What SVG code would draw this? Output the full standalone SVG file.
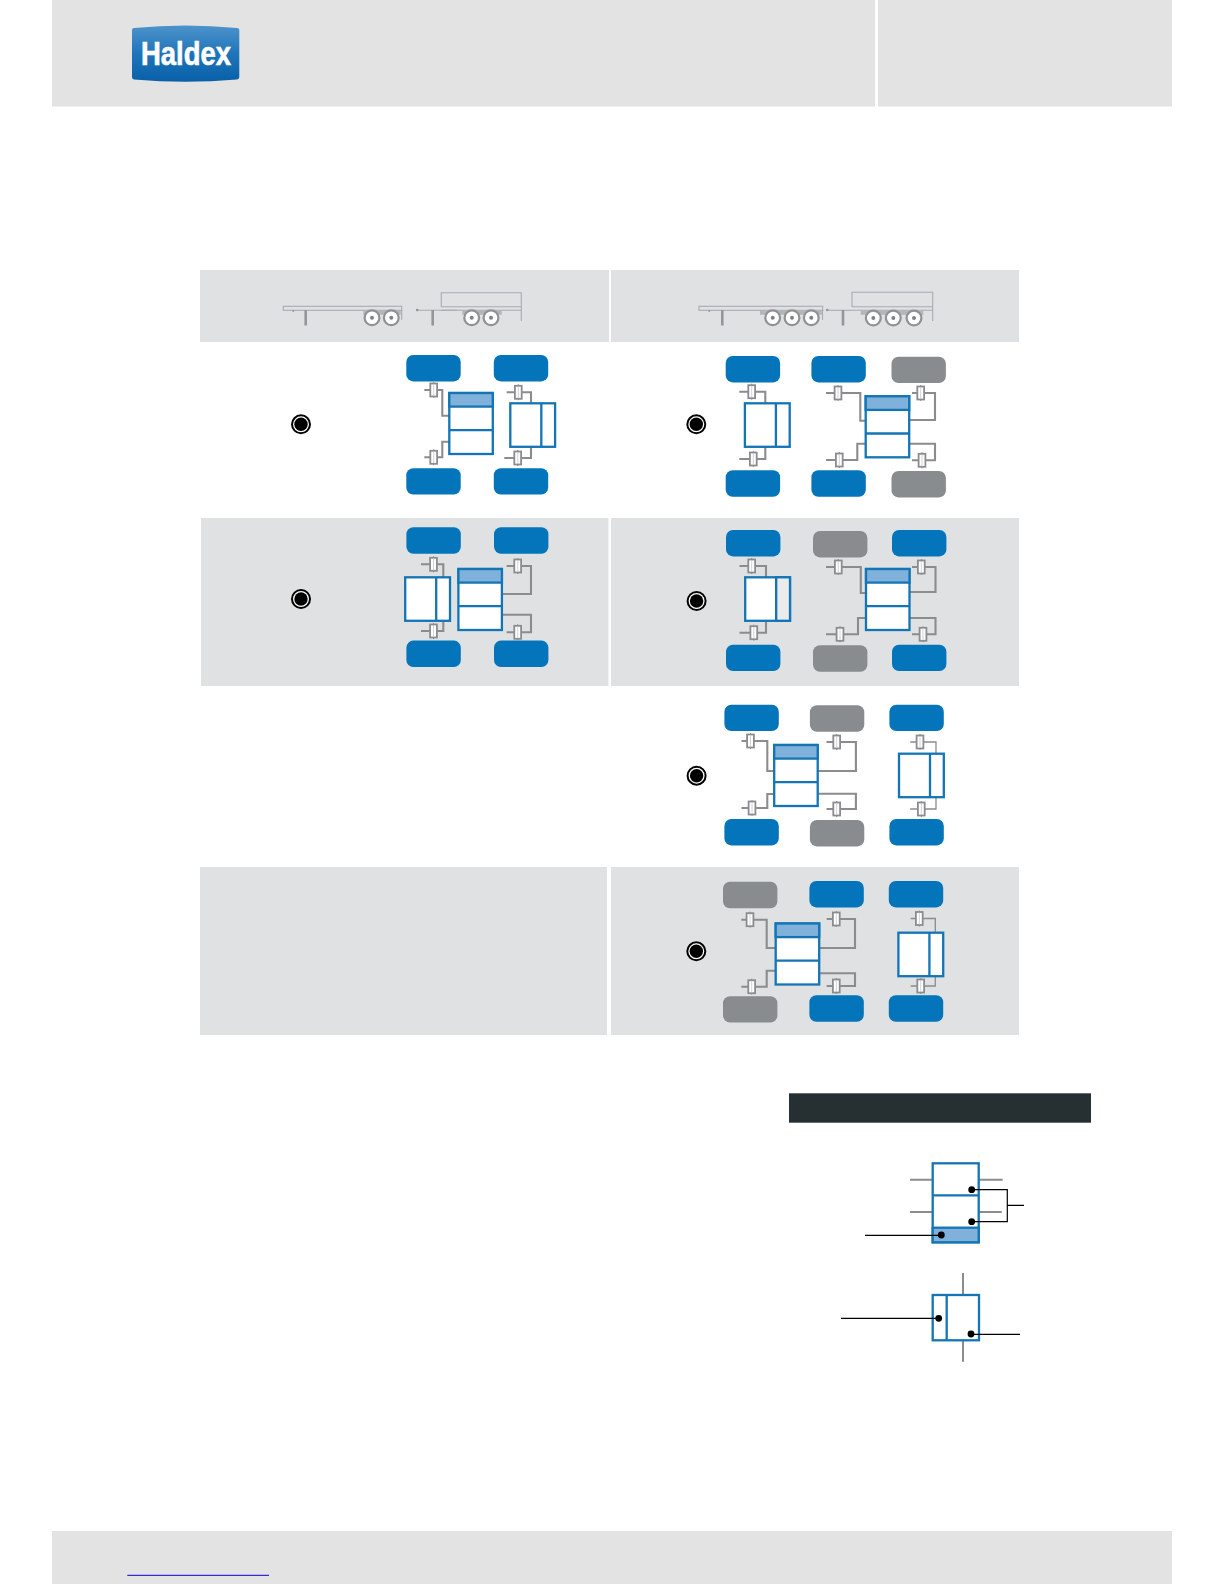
<svg xmlns="http://www.w3.org/2000/svg" width="1224" height="1584" viewBox="0 0 1224 1584">
<style>
.hd{fill:#e3e3e3}.cell{fill:#dfe1e3}
.t{rx:7px;ry:7px;width:54.4px;height:26.4px}.b{fill:#0474bb}.g{fill:#898c8e}
.bk{fill:#fff;stroke:#1375b5;stroke-width:2.3}
.fl{fill:#7fb1da;stroke:#1375b5;stroke-width:2.3}
.sep{stroke:#1375b5;stroke-width:2.3;fill:none}
.p{fill:none;stroke:#8a8c8e;stroke-width:2.1}
.tr{fill:none;stroke:#a9acae;stroke-width:1.1}
.leg{fill:none;stroke:#94979a;stroke-width:2.6}
.ax{fill:#b4b7b9}
.wh{fill:#fff;stroke:#8f9294;stroke-width:2.2}
.hub{fill:#7f8284}
.k{fill:none;stroke:#000;stroke-width:1.2}
.kg{fill:none;stroke:#8a8c8e;stroke-width:2}
</style>
<defs>
<linearGradient id="lg" x1="0" y1="0" x2="0" y2="1"><stop offset="0" stop-color="#4d93cb"/><stop offset="0.5" stop-color="#1f75ba"/><stop offset="1" stop-color="#0a60a8"/></linearGradient>
<g id="v"><line x1="0" y1="-8" x2="0" y2="8" stroke="#8a8c8e" stroke-width="1"/><rect x="-3.400" y="-6.500" width="6.800" height="13" fill="#fff" stroke="#8a8c8e" stroke-width="1.800"/><line x1="0" y1="-6" x2="0" y2="6" stroke="#c4c6c8" stroke-width="0.800"/></g>
<g id="b3"><rect class="bk" width="43.500" height="61"/><rect class="fl" width="43.500" height="13.600"/><line class="sep" x1="0" y1="37.200" x2="43.500" y2="37.200"/></g>
<g id="b2"><rect class="bk" width="44.800" height="43.500"/><line class="sep" x1="31" y1="0" x2="31" y2="43.500"/></g>
<g id="r"><circle r="9" fill="#fff" stroke="#000" stroke-width="2"/><circle r="6.700" fill="#000"/></g>
<g id="w"><circle class="wh" r="7.400"/><circle class="hub" r="2"/></g>
</defs>

<g id="header"><rect class="hd" x="52" width="823" height="106.500"/><rect class="hd" x="878" width="294" height="106.500"/></g>
<g id="logo"><path d="M132 30Q132 28 134 28Q185 23 237 28Q239.300 28 239.300 30V77Q239.300 79 237 79.500Q185 84 134 79.500Q132 79 132 77Z" fill="url(#lg)"/><text x="141" y="65" font-family="Liberation Sans, Arial, sans-serif" font-weight="700" font-size="32.500" fill="#fff" stroke="#fff" stroke-width="0.600" textLength="90" lengthAdjust="spacingAndGlyphs">Haldex</text></g>
<g id="footer"><rect class="hd" x="52" y="1531" width="1120" height="53"/><line x1="127.300" y1="1575.300" x2="269" y2="1575.300" stroke="#0000cc" stroke-width="1"/></g>

<g id="table">
<rect class="cell" x="200" y="270" width="409" height="72"/>
<rect class="cell" x="611" y="270" width="408" height="72"/>
<rect class="cell" x="201" y="518" width="407.500" height="168"/>
<rect class="cell" x="611" y="518" width="408" height="168"/>
<rect class="cell" x="200" y="867" width="407" height="168"/>
<rect class="cell" x="611" y="867" width="408" height="168"/>
</g>

<g id="vehicle-2axle">
<rect class="tr" x="283.300" y="306.300" width="118.400" height="4"/>
<circle cx="293.300" cy="311" r="1" fill="#999"/>
<line class="leg" x1="305.700" y1="310" x2="305.700" y2="325.500"/>
<rect class="ax" x="363.300" y="310.300" width="37.400" height="4.500"/>
<line class="tr" x1="401.700" y1="310" x2="401.700" y2="320"/>
<use href="#w" x="372" y="317.700"/><use href="#w" x="391.300" y="317.700"/>
<circle cx="417.300" cy="310" r="1.300" fill="#8a8c8e"/>
<line class="tr" x1="417.300" y1="310.300" x2="456.700" y2="310.300"/>
<line class="leg" x1="432.700" y1="310" x2="432.700" y2="325.500"/>
<path class="tr" d="M441.300 306.700V292.700H521.300V321M441.300 306.700H521.300M441.300 310.300H521.300"/>
<rect class="ax" x="462.300" y="310.300" width="39.400" height="4.500"/>
<use href="#w" x="471.700" y="317.700"/><use href="#w" x="491" y="317.700"/>
</g>
<g id="vehicle-3axle">
<rect class="tr" x="699" y="306.300" width="123.700" height="4"/>
<circle cx="709.300" cy="311" r="1" fill="#999"/>
<line class="leg" x1="722.300" y1="310" x2="722.300" y2="325.500"/>
<rect class="ax" x="760" y="310.300" width="61.700" height="4.500"/>
<line class="tr" x1="822.500" y1="310" x2="822.500" y2="320"/>
<use href="#w" x="772.700" y="317.700"/><use href="#w" x="792" y="317.700"/><use href="#w" x="811.300" y="317.700"/>
<circle cx="827.300" cy="310" r="1.300" fill="#8a8c8e"/>
<line class="tr" x1="827.300" y1="310.300" x2="852" y2="310.300"/>
<line class="leg" x1="843" y1="310" x2="843" y2="325.500"/>
<path class="tr" d="M852 306.700V292.300H932.700V321M852 306.700H932.700M852 310.300H932.700"/>
<rect class="ax" x="860.700" y="310.300" width="62.600" height="4.500"/>
<use href="#w" x="873.300" y="318"/><use href="#w" x="893.300" y="318"/><use href="#w" x="914" y="318"/>
</g>

<g id="connectors">
<path class="p" d="M424.300 390H442.300V415.700H449.300M424.300 457.300H442.300V441.700H449.300M506.700 392.300H531V403.300M504.300 458H531V446.700"/>
<path class="p" d="M739.300 391.700H765.300V403.300M739.300 459H765.300V446.700M826 393H860.300V420.700H865.700M826 460H857.300V443.700H865.700M912 393H935V420H909M912 460.300H935V443.700H909"/>
<path class="p" d="M421 564.300H443.300V577.300M421 631H443.300V621M506.600 566H531V594H501.700M506.600 632.300H531V614.700H501.700"/>
<path class="p" d="M739.500 566H766V577.300M739.500 632.700H766V621M826 567H860.800V593H866M826 634.300H858V618H866M912 567H935.500V592H909.800M912 634.300H935.500V618H909.800"/>
<path class="p" d="M741.500 741H767.300V771H774.200M741.500 808H767.300V794H774.200M826.500 742H855.900V771H817.900M826.500 809H855.900V793.700H817.900"/>
<path class="p" style="stroke-width:1.300" d="M910.200 742H936V753.700M910.200 809H936V797.300"/>
<path class="p" d="M741.300 919.700H766.700V948H775.700M741.300 986.700H766.700V970.700H775.700M826.700 919H855V948H819.300M826.700 986H855V973.300H819.300"/>
<path class="p" style="stroke-width:1.300" d="M910.700 918.500H935.300V932.700M910.700 986H935.300V976"/>
</g>

<g id="config-1a">
<use href="#r" x="301" y="424.300"/>
<rect class="t b" x="406.300" y="355"/><rect class="t b" x="493.800" y="355"/><rect class="t b" x="406.300" y="468.200"/><rect class="t b" x="493.800" y="468.200"/>
<use href="#b3" x="449.300" y="393"/><use href="#b2" x="510.300" y="403.300"/>
<use href="#v" x="433.700" y="390"/><use href="#v" x="433.700" y="457.300"/><use href="#v" x="518.300" y="392.300"/><use href="#v" x="517.700" y="458"/>
</g>
<g id="config-1b">
<use href="#r" x="696.300" y="424.300"/>
<rect class="t b" x="725.700" y="356"/><rect class="t b" x="811.400" y="356"/><rect class="t g" x="891.500" y="356.700"/><rect class="t b" x="725.700" y="470.300"/><rect class="t b" x="811.400" y="470.300"/><rect class="t g" x="891.500" y="471"/>
<use href="#b2" x="744.900" y="403.300"/><use href="#b3" x="865.700" y="396.300"/>
<use href="#v" x="751.700" y="391.700"/><use href="#v" x="753.300" y="459"/><use href="#v" x="838" y="393"/><use href="#v" x="839.300" y="460"/><use href="#v" x="920.700" y="393"/><use href="#v" x="922" y="460.300"/>
</g>
<g id="config-2a">
<use href="#r" x="301" y="599"/>
<rect class="t b" x="406.400" y="527.300"/><rect class="t b" x="494" y="527.300"/><rect class="t b" x="406.400" y="640.600"/><rect class="t b" x="494" y="640.600"/>
<use href="#b2" x="405.200" y="577.300"/><use href="#b3" x="458.400" y="569"/>
<use href="#v" x="433.500" y="564.300"/><use href="#v" x="433.500" y="631"/><use href="#v" x="517.700" y="566"/><use href="#v" x="517.700" y="632.300"/>
</g>
<g id="config-2b">
<use href="#r" x="696.600" y="601"/>
<rect class="t b" x="726" y="530"/><rect class="t g" x="813" y="531"/><rect class="t b" x="892" y="530"/><rect class="t b" x="726" y="644.700"/><rect class="t g" x="813" y="645.300"/><rect class="t b" x="892" y="644.700"/>
<use href="#b2" x="745.200" y="577.300"/><rect class="bk" style="fill:#ebebeb" x="776.200" y="577.300" width="13.800" height="43.500"/><use href="#b3" x="866" y="569"/>
<use href="#v" x="751.700" y="566"/><use href="#v" x="753.800" y="632.700"/><use href="#v" x="838.300" y="567"/><use href="#v" x="840" y="634.300"/><use href="#v" x="921.300" y="567"/><use href="#v" x="923" y="634.300"/>
</g>
<g id="config-3b">
<use href="#r" x="696.600" y="775.700"/>
<rect class="t b" x="724.400" y="704.700"/><rect class="t g" x="809.900" y="705.300"/><rect class="t b" x="889.400" y="704.700"/><rect class="t b" x="724.400" y="819"/><rect class="t g" x="809.900" y="820"/><rect class="t b" x="889.400" y="819"/>
<use href="#b3" x="774.200" y="745"/><use href="#b2" x="899" y="753.700"/>
<use href="#v" x="750.500" y="741"/><use href="#v" x="752" y="808"/><use href="#v" x="836.700" y="742"/><use href="#v" x="836.700" y="809"/><use href="#v" x="920" y="742"/><use href="#v" x="921.300" y="809"/>
</g>
<g id="config-4b">
<use href="#r" x="696.300" y="951.300"/>
<rect class="t g" x="723" y="881.800"/><rect class="t b" x="809.400" y="881"/><rect class="t b" x="888.800" y="881"/><rect class="t g" x="723" y="996.200"/><rect class="t b" x="809.400" y="995.300"/><rect class="t b" x="888.800" y="995.300"/>
<use href="#b3" x="775.700" y="923.500"/><use href="#b2" x="898.400" y="932.700"/>
<use href="#v" x="750" y="919.700"/><use href="#v" x="751.700" y="986.700"/><use href="#v" x="836.300" y="919"/><use href="#v" x="836.300" y="986"/><use href="#v" x="919.300" y="918.500"/><use href="#v" x="920.700" y="986"/>
</g>

<g id="legend">
<rect x="789" y="1093.300" width="302" height="29.400" fill="#263033"/>
<path class="kg" d="M910 1179.700H932.700M978.700 1179.700H1002.700M910 1212H932.700M978.700 1212H1001.700M963 1273V1295M963 1340.300V1361.700"/>
<rect class="bk" x="932.700" y="1163.300" width="46" height="79"/>
<rect class="fl" x="932.700" y="1227.700" width="46" height="14.600"/>
<line class="sep" x1="932.700" y1="1195.300" x2="978.700" y2="1195.300"/>
<rect class="bk" x="932.700" y="1295" width="46.300" height="45.300"/>
<line class="sep" x1="946.700" y1="1295" x2="946.700" y2="1340.300"/>
<path class="k" d="M971.700 1189.700H1007.300V1221.700H971.700M1007.300 1205.300H1024M865 1235.300H941.300M841 1318.300H938.700M971 1334.300H1020"/>
<circle cx="971.700" cy="1189.700" r="3.400"/><circle cx="971.700" cy="1221.700" r="3.400"/><circle cx="941.300" cy="1235" r="3.400"/><circle cx="938.700" cy="1318.300" r="3.400"/><circle cx="971" cy="1334" r="3.400"/>
</g>
</svg>
